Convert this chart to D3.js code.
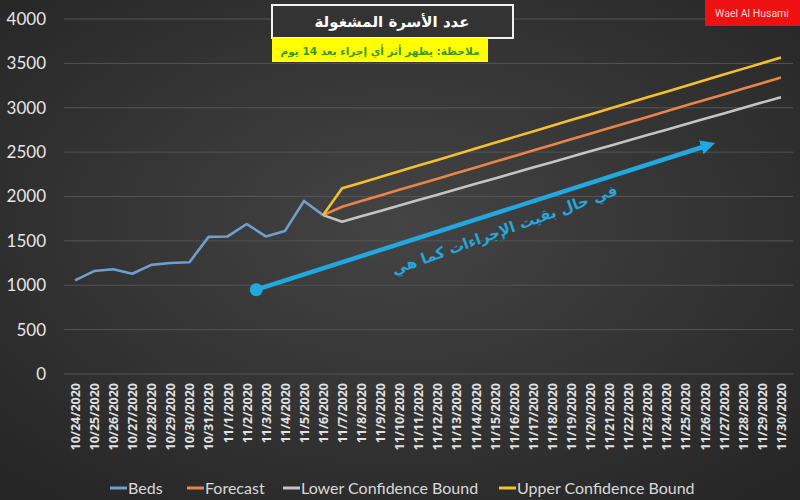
<!DOCTYPE html>
<html>
<head>
<meta charset="utf-8">
<script src="https://cdn.jsdelivr.net/npm/d3@7"></script>
<style>
  body { margin: 0; background: #2b2b2b; }
  svg { display: block; }
</style>
</head>
<body>
<div id="chart"></div>
<script>
// categories
const dates = [
  "10/24/2020", "10/25/2020", "10/26/2020", "10/27/2020", "10/28/2020", "10/29/2020",
  "10/30/2020", "10/31/2020", "11/1/2020", "11/2/2020", "11/3/2020", "11/4/2020",
  "11/5/2020", "11/6/2020", "11/7/2020", "11/8/2020", "11/9/2020", "11/10/2020",
  "11/11/2020", "11/12/2020", "11/13/2020", "11/14/2020", "11/15/2020", "11/16/2020",
  "11/17/2020", "11/18/2020", "11/19/2020", "11/20/2020", "11/21/2020", "11/22/2020",
  "11/23/2020", "11/24/2020", "11/25/2020", "11/26/2020", "11/27/2020", "11/28/2020",
  "11/29/2020", "11/30/2020"
];

// observed beds, 10/24 .. 11/6
const beds = [1055, 1160, 1180, 1130, 1230, 1250, 1260, 1545, 1550, 1690, 1550, 1610, 1950, 1790];

// forecast series, 11/6 .. 11/30
const forecast = [1790, 1885, 1948, 2011, 2075, 2138, 2201, 2264, 2328, 2391, 2454, 2518, 2581,
  2644, 2707, 2771, 2834, 2897, 2960, 3024, 3087, 3150, 3213, 3277, 3340];
const lowerBound = [1790, 1716, 1777, 1838, 1899, 1960, 2021, 2082, 2143, 2204, 2265, 2326, 2387,
  2448, 2509, 2570, 2631, 2692, 2753, 2814, 2875, 2936, 2997, 3058, 3119];
const upperBound = [1790, 2092, 2156, 2220, 2284, 2348, 2412, 2476, 2541, 2605, 2669, 2733, 2797,
  2861, 2925, 2989, 3053, 3117, 3181, 3245, 3309, 3374, 3438, 3502, 3566];

const yTicks = [0, 500, 1000, 1500, 2000, 2500, 3000, 3500, 4000];

// trend arrow annotation (category position, value)
const arrowFrom = { pos: 9.5, value: 950 };
const arrowTo = { pos: 33.5, value: 2600 };

const width = 800, height = 500;

const svg = d3.select("#chart")
  .append("svg")
  .attr("width", width)
  .attr("height", height);

// background gradient
const defs = svg.append("defs");
const bg = defs.append("radialGradient").attr("id", "bg")
  .attr("cx", "50%").attr("cy", "45%").attr("r", "70%");
bg.append("stop").attr("offset", "0%").attr("stop-color", "#444444");
bg.append("stop").attr("offset", "100%").attr("stop-color", "#262626");

svg.append("rect").attr("width", width).attr("height", height).attr("fill", "url(#bg)");

const marker = defs.append("marker")
  .attr("id", "arrowhead")
  .attr("viewBox", "0 0 10 10")
  .attr("refX", 5).attr("refY", 5)
  .attr("markerWidth", 3.2).attr("markerHeight", 3.2)
  .attr("orient", "auto");
marker.append("path").attr("d", "M0,0 L10,5 L0,10 z").attr("fill", "#22a8e0");

// scales
const x = d3.scalePoint().domain(dates).range([75, 781]);
const y = d3.scaleLinear().domain([0, 4000]).range([374, 19]);
const xPos = (p) => x(dates[0]) + p * x.step();

// gridlines
svg.append("g")
  .selectAll("line")
  .data(yTicks)
  .join("line")
  .attr("x1", 64).attr("x2", 793)
  .attr("y1", (d) => y(d)).attr("y2", (d) => y(d))
  .attr("stroke", "#545454")
  .attr("stroke-width", 1);

// y axis
const yAxis = svg.append("g")
  .attr("transform", "translate(52,0)")
  .call(d3.axisLeft(y).tickValues(yTicks).tickFormat(d3.format("d")).tickSize(0).tickPadding(6));
yAxis.select(".domain").remove();
yAxis.selectAll("text")
  .attr("fill", "#e6e6e6")
  .attr("font-family", "Lato, 'Open Sans', sans-serif")
  .attr("font-size", 17);

// x axis
const xAxis = svg.append("g")
  .attr("transform", "translate(0,378)")
  .call(d3.axisBottom(x).tickSize(0).tickPadding(0));
xAxis.select(".domain").remove();
xAxis.selectAll("text")
  .attr("fill", "#e0e0e0")
  .attr("font-family", "'Open Sans', sans-serif")
  .attr("font-weight", "bold")
  .attr("font-size", 12.5)
  .attr("text-anchor", "end")
  .attr("transform", "rotate(-90)")
  .attr("dx", "-0.4em")
  .attr("dy", "0.35em")
  .attr("x", 0)
  .attr("y", 0);

// lines
const line = d3.line()
  .x((d) => x(d.date))
  .y((d) => y(d.value));

const series = [
  { name: "Beds", color: "#6f9fcf", values: beds.map((v, i) => ({ date: dates[i], value: v })) },
  { name: "Lower Confidence Bound", color: "#c4c4c4", values: lowerBound.map((v, i) => ({ date: dates[i + 13], value: v })) },
  { name: "Forecast", color: "#ec8447", values: forecast.map((v, i) => ({ date: dates[i + 13], value: v })) },
  { name: "Upper Confidence Bound", color: "#f5c02a", values: upperBound.map((v, i) => ({ date: dates[i + 13], value: v })) }
];

svg.append("g")
  .selectAll("path")
  .data(series)
  .join("path")
  .attr("d", (d) => line(d.values))
  .attr("fill", "none")
  .attr("stroke", (d) => d.color)
  .attr("stroke-width", 2.6)
  .attr("stroke-linejoin", "round");

// trend arrow
const ax1 = xPos(arrowFrom.pos), ay1 = y(arrowFrom.value);
const ax2 = xPos(arrowTo.pos), ay2 = y(arrowTo.value);
svg.append("line")
  .attr("x1", ax1).attr("y1", ay1)
  .attr("x2", ax2 - 6).attr("y2", ay2 + 2)
  .attr("stroke", "#22a8e0")
  .attr("stroke-width", 4.5)
  .attr("marker-end", "url(#arrowhead)");
svg.append("circle")
  .attr("cx", ax1).attr("cy", ay1)
  .attr("r", 6.5)
  .attr("fill", "#22a8e0");

const angle = Math.atan2(ay2 - ay1, ax2 - ax1) * 180 / Math.PI;
svg.append("text")
  .attr("transform", `translate(${xPos(22.6)},${y(1570)}) rotate(${angle - 2})`)
  .attr("text-anchor", "middle")
  .attr("direction", "rtl")
  .attr("fill", "#26a6dc")
  .attr("font-family", "'DejaVu Sans', sans-serif")
  .attr("font-weight", "bold")
  .attr("font-size", 15)
  .text("في حال بقيت الإجراءات كما هي");

// title box
svg.append("rect")
  .attr("x", 272).attr("y", 5)
  .attr("width", 241).attr("height", 33)
  .attr("fill", "#333333")
  .attr("stroke", "#f0f0f0")
  .attr("stroke-width", 2);
svg.append("text")
  .attr("x", 392).attr("y", 27)
  .attr("text-anchor", "middle")
  .attr("direction", "rtl")
  .attr("fill", "#ffffff")
  .attr("font-family", "'DejaVu Sans', sans-serif")
  .attr("font-weight", "bold")
  .attr("font-size", 15)
  .text("عدد الأسرة المشغولة");

// note box
svg.append("rect")
  .attr("x", 272).attr("y", 38)
  .attr("width", 216).attr("height", 24)
  .attr("fill", "#ffff00");
svg.append("text")
  .attr("x", 380).attr("y", 54.5)
  .attr("text-anchor", "middle")
  .attr("direction", "rtl")
  .attr("fill", "#3c9a1e")
  .attr("font-family", "'DejaVu Sans', sans-serif")
  .attr("font-weight", "bold")
  .attr("font-size", 10.5)
  .text("ملاحظة: يظهر أثر أي إجراء بعد 14 يوم");

// author tag
svg.append("rect")
  .attr("x", 705).attr("y", 0)
  .attr("width", 95).attr("height", 26)
  .attr("fill", "#ee1111");
svg.append("text")
  .attr("x", 752).attr("y", 17)
  .attr("text-anchor", "middle")
  .attr("fill", "#ffd6d6")
  .attr("font-family", "Roboto, sans-serif")
  .attr("font-size", 10.5)
  .text("Wael Al Husami");

// legend
const legendItems = [
  { name: "Beds", color: "#6f9fcf", x: 110 },
  { name: "Forecast", color: "#ec8447", x: 187 },
  { name: "Lower Confidence Bound", color: "#c4c4c4", x: 283 },
  { name: "Upper Confidence Bound", color: "#f5c02a", x: 499 }
];
const legend = svg.append("g")
  .selectAll("g")
  .data(legendItems)
  .join("g")
  .attr("transform", (d) => `translate(${d.x},488)`);
legend.append("line")
  .attr("x1", 0).attr("x2", 17)
  .attr("stroke", (d) => d.color)
  .attr("stroke-width", 3);
legend.append("text")
  .attr("x", 18).attr("dy", "0.35em")
  .attr("fill", "#d9d9d9")
  .attr("font-family", "Lato, 'Open Sans', sans-serif")
  .attr("font-size", 16)
  .text((d) => d.name);
</script>
</body>
</html>
